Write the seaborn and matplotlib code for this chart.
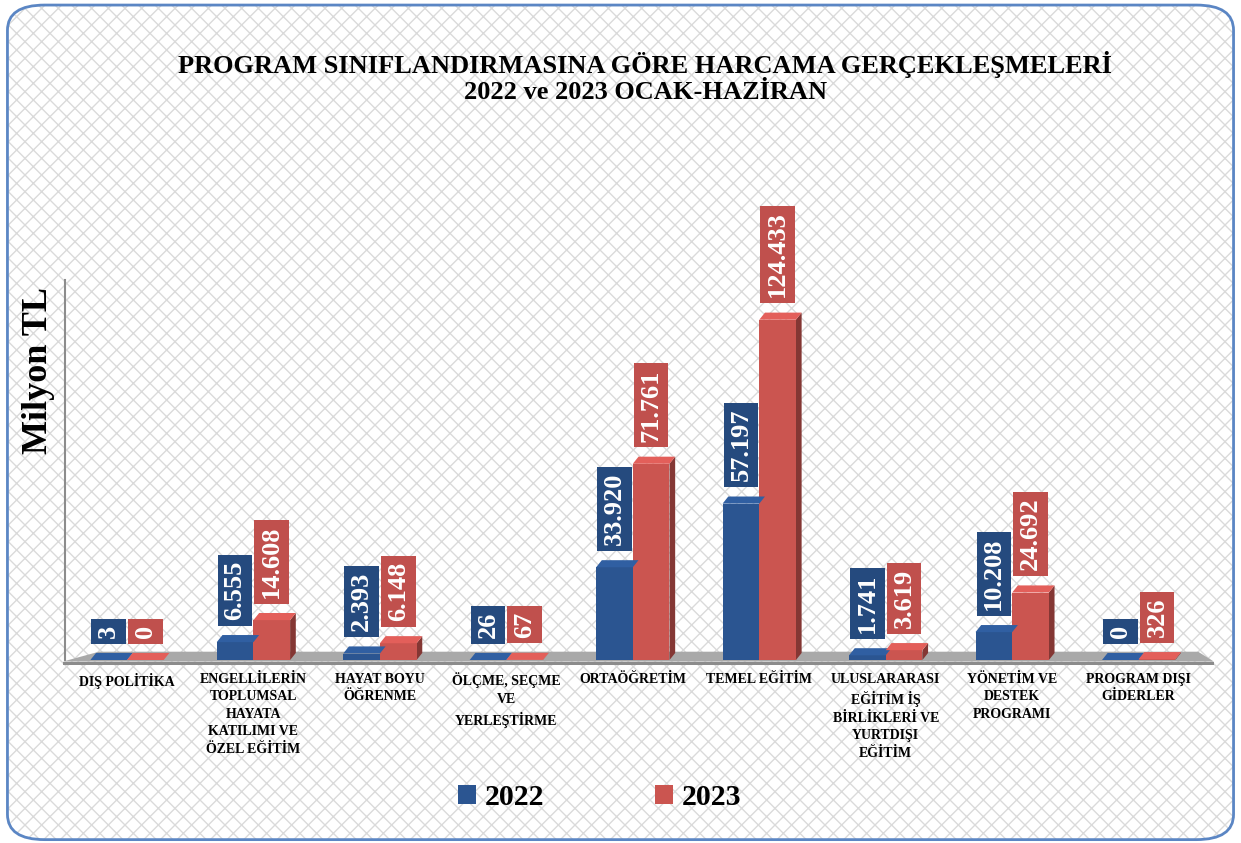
import matplotlib.pyplot as plt
import pandas as pd
import seaborn as sns
from matplotlib.patches import FancyBboxPatch, Polygon, Patch
from matplotlib.colors import to_rgb

# Data (Milyon TL)
programs = ['DIŞ POLİTİKA', 'ENGELLİLERİN TOPLUMSAL HAYATA KATILIMI VE ÖZEL EĞİTİM',
            'HAYAT BOYU ÖĞRENME', 'ÖLÇME, SEÇME VE YERLEŞTİRME', 'ORTAÖĞRETİM',
            'TEMEL EĞİTİM', 'ULUSLARARASI EĞİTİM İŞ BİRLİKLERİ VE YURTDIŞI EĞİTİM',
            'YÖNETİM VE DESTEK PROGRAMI', 'PROGRAM DIŞI GİDERLER']
tick_labels = ['DIŞ POLİTİKA', 'ENGELLİLERİN\nTOPLUMSAL\nHAYATA\nKATILIMI VE\nÖZEL EĞİTİM',
               'HAYAT BOYU\nÖĞRENME', 'ÖLÇME, SEÇME\nVE\nYERLEŞTİRME', 'ORTAÖĞRETİM',
               'TEMEL EĞİTİM', 'ULUSLARARASI\nEĞİTİM İŞ\nBİRLİKLERİ VE\nYURTDIŞI\nEĞİTİM',
               'YÖNETİM VE\nDESTEK\nPROGRAMI', 'PROGRAM DIŞI\nGİDERLER']
years = ['2022', '2023']
values_2022 = [3, 6555, 2393, 26, 33920, 57197, 1741, 10208, 0]
values_2023 = [0, 14608, 6148, 67, 71761, 124433, 3619, 24692, 326]

bar_colors = {'2022': '#2b5591', '2023': '#cb5550'}
box_colors = {'2022': '#254a7e', '2023': '#c0504d'}

df = pd.DataFrame({
    'program': programs * 2,
    'year': ['2022'] * len(programs) + ['2023'] * len(programs),
    'value': values_2022 + values_2023,
})

plt.rcParams['font.family'] = ['Liberation Serif', 'DejaVu Serif']
plt.rcParams['hatch.linewidth'] = 1.0

fig = plt.figure(figsize=(12.41, 8.43), dpi=100)
fig.patch.set_facecolor('white')

# Background lattice and rounded border
bg = FancyBboxPatch((0.006, 0.004), 0.988, 0.99, boxstyle='round,pad=0,rounding_size=0.03',
                    transform=fig.transFigure, facecolor='white', edgecolor='#dadada',
                    hatch='xx', linewidth=0, zorder=-10)
fig.add_artist(bg)
border = FancyBboxPatch((0.006, 0.004), 0.988, 0.99, boxstyle='round,pad=0,rounding_size=0.03',
                        transform=fig.transFigure, facecolor='none', edgecolor='#5b86c4',
                        linewidth=2, zorder=-9)
fig.add_artist(border)

ax = fig.add_axes([0.0524, 0.217, 0.913, 0.451])
ax.set_facecolor('none')

sns.barplot(data=df, x='program', y='value', hue='year', order=programs, hue_order=years,
            palette=bar_colors, width=0.58, saturation=1, legend=False, ax=ax, zorder=3)

ax.set_xlim(-0.49, 8.47)
ax.set_ylim(0, 139000)

# 3D look: side and top faces derived from the drawn bars
dx, dy = 0.045, 2600
for i, p in enumerate(ax.patches):
    x, w, h = p.get_x(), p.get_width(), p.get_height()
    base = to_rgb(p.get_facecolor())
    dark = tuple(c * 0.65 for c in base)
    light = tuple(min(1, c * 1.12) for c in base)
    ax.add_patch(Polygon([(x + w, 0), (x + w + dx, dy), (x + w + dx, h + dy), (x + w, h)],
                         closed=True, facecolor=dark, edgecolor='none', zorder=2.9))
    ax.add_patch(Polygon([(x, h), (x + dx, h + dy), (x + w + dx, h + dy), (x + w, h)],
                         closed=True, facecolor=light, edgecolor='none', zorder=3.1))

# Value labels
for j, year in enumerate(years):
    vals = values_2022 if year == '2022' else values_2023
    for i, v in enumerate(vals):
        p = ax.patches[j * len(programs) + i]
        ax.annotate(f'{v:,}'.replace(',', '.'),
                    xy=(p.get_x() + p.get_width() / 2, p.get_height()),
                    xytext=(0, 16), textcoords='offset points',
                    rotation=90, ha='center', va='bottom', color='white',
                    fontsize=19, fontweight='bold', zorder=5,
                    bbox=dict(boxstyle='square,pad=0.22', facecolor=box_colors[year],
                              edgecolor='none'))

# Floor
floor_top = Polygon([(-0.002, -0.004), (0.03, 0.022), (1.0, 0.022), (1.014, -0.004)],
                    closed=True, transform=ax.transAxes, facecolor='#a9a9a9',
                    edgecolor='none', clip_on=False, zorder=1)
floor_front = Polygon([(-0.002, -0.004), (1.014, -0.004), (1.014, -0.014), (-0.002, -0.014)],
                      closed=True, transform=ax.transAxes, facecolor='#8c8c8c',
                      edgecolor='none', clip_on=False, zorder=1)
ax.add_patch(floor_top)
ax.add_patch(floor_front)

for s in ['top', 'right', 'bottom']:
    ax.spines[s].set_visible(False)
ax.spines['left'].set_color('#8c8c8c')
ax.spines['left'].set_linewidth(1.5)
ax.set_yticks([])
ax.set_xticks(range(len(programs)))
ax.set_xticklabels(tick_labels, fontsize=10, fontweight='bold', linespacing=1.45)
ax.tick_params(axis='x', length=0, pad=9)
ax.set_xlabel('')
ax.set_ylabel('')

fig.text(0.031, 0.561, 'Milyon TL', rotation=90, ha='center', va='center',
         fontsize=26, fontweight='bold')

fig.text(0.52, 0.908, 'PROGRAM SINIFLANDIRMASINA GÖRE HARCAMA GERÇEKLEŞMELERİ\n2022 ve 2023 OCAK-HAZİRAN',
         ha='center', va='center', fontsize=19, fontweight='bold', linespacing=1.2)

handles = [Patch(facecolor=bar_colors[y], edgecolor='none') for y in years]
fig.legend(handles, years, loc='center', bbox_to_anchor=(0.483, 0.054), ncol=2, frameon=False,
           prop={'size': 21.5, 'weight': 'bold'}, handlelength=0.6, handleheight=0.6,
           handletextpad=0.3, columnspacing=3.7)

fig.savefig('out.png', dpi=100)
